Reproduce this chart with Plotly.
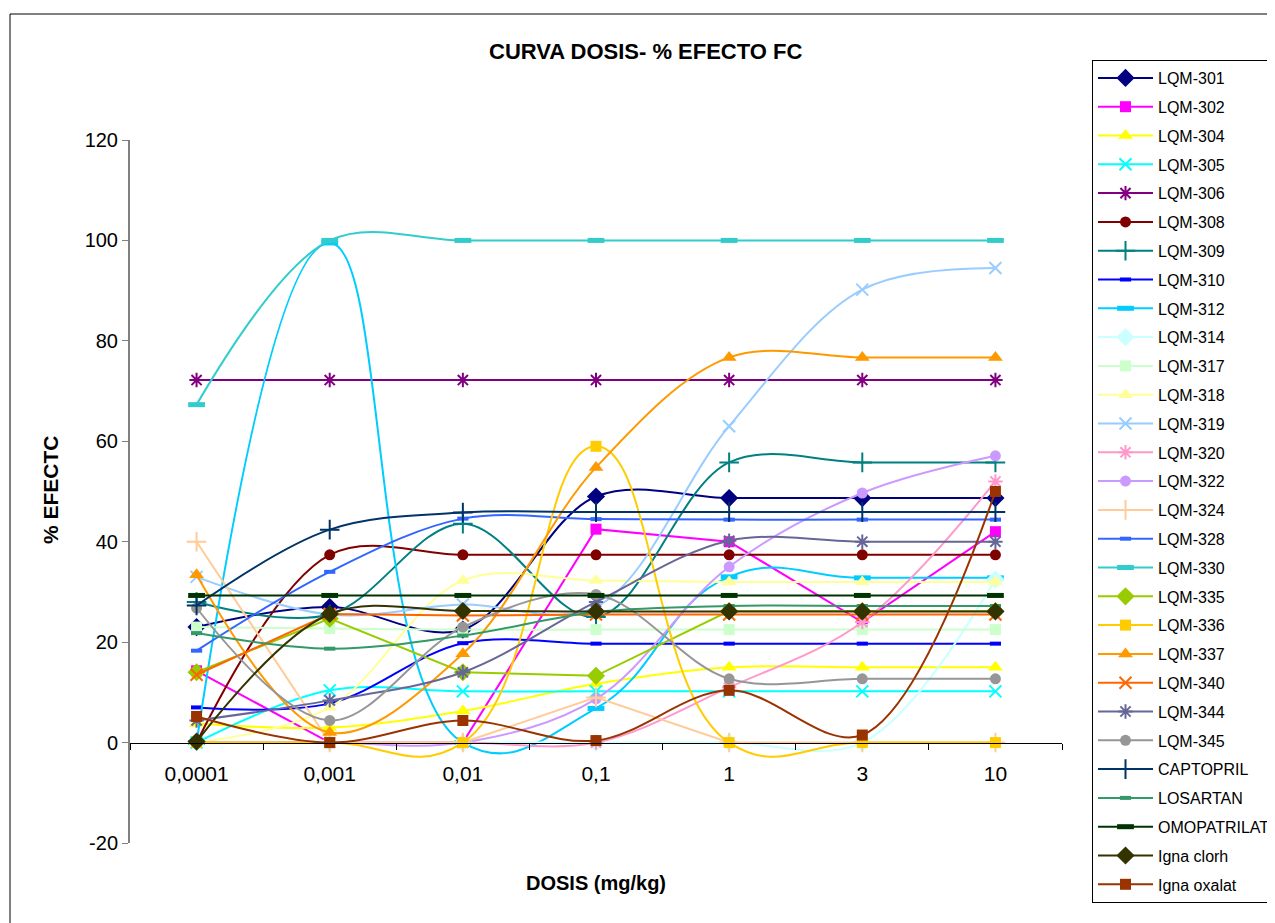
import plotly.graph_objects as go

# ---------------- data ----------------
doses = ["0,0001", "0,001", "0,01", "0,1", "1", "3", "10"]

lqm_301 = [23, 27, 22.5, 49, 48.7, 48.7, 48.7]
lqm_302 = [14.3, 0, 0, 42.5, 40, 24, 42]
lqm_304 = [3.8, 3, 6.3, 11.7, 15, 15, 15]
lqm_305 = [0, 10.4, 10.2, 10.2, 10.2, 10.2, 10.2]
lqm_306 = [72.2, 72.2, 72.2, 72.2, 72.2, 72.2, 72.2]
lqm_308 = [0, 37.4, 37.4, 37.4, 37.4, 37.4, 37.4]
lqm_309 = [28, 25.5, 43.6, 25, 55.8, 55.8, 55.8]
lqm_310 = [7, 7.8, 19.8, 19.7, 19.7, 19.7, 19.7]
lqm_312 = [0, 99.5, 0, 6.8, 33, 32.8, 32.8]
lqm_314 = [0, 0, 0, 0, 0, 0, 32.5]
lqm_317 = [23, 22.7, 22.5, 22.5, 22.5, 22.5, 22.5]
lqm_318 = [0, 7, 32.3, 32.3, 32, 32, 32]
lqm_319 = [33, 25.5, 27.5, 27, 63, 90.2, 94.5]
lqm_320 = [0, 0, 0, 0, 11, 24, 52]
lqm_322 = [0, 0, 0, 8.7, 35, 49.7, 57.1]
lqm_324 = [40, 0, 0, 9, 0, 0, 0]
lqm_328 = [18.3, 34, 44.6, 44.5, 44.4, 44.4, 44.4]
lqm_330 = [67.3, 100, 100, 100, 100, 100, 100]
lqm_335 = [14, 24.7, 14, 13.3, 26.2, 26.2, 26.2]
lqm_336 = [0, 0, 0, 59, 0, 0, 0]
lqm_337 = [33.4, 2, 17.7, 54.8, 76.7, 76.7, 76.7]
lqm_340 = [13.5, 25.6, 25.3, 25.5, 25.5, 25.5, 25.5]
lqm_344 = [4.4, 8.4, 14, 28, 40.2, 40, 40]
lqm_345 = [26.8, 4.4, 23, 29.5, 12.7, 12.7, 12.7]
captopril = [27.3, 42.4, 45.8, 45.9, 45.9, 45.9, 45.9]
losartan = [21.8, 18.7, 21.3, 26, 27.2, 27.2, 27.2]
omopatrilat = [29.3, 29.3, 29.3, 29.3, 29.3, 29.3, 29.3]
igna_clorh = [0.2, 25.6, 26.2, 26.1, 26.1, 26.1, 26.1]
igna_oxalat = [5.2, 0, 4.4, 0.4, 10.4, 1.5, 50]

series_names = ["LQM-301", "LQM-302", "LQM-304", "LQM-305", "LQM-306", "LQM-308",
                "LQM-309", "LQM-310", "LQM-312", "LQM-314", "LQM-317", "LQM-318",
                "LQM-319", "LQM-320", "LQM-322", "LQM-324", "LQM-328", "LQM-330",
                "LQM-335", "LQM-336", "LQM-337", "LQM-340", "LQM-344", "LQM-345",
                "CAPTOPRIL", "LOSARTAN", "OMOPATRILAT", "Igna clorh", "Igna oxalat"]
series_values = [lqm_301, lqm_302, lqm_304, lqm_305, lqm_306, lqm_308, lqm_309,
                 lqm_310, lqm_312, lqm_314, lqm_317, lqm_318, lqm_319, lqm_320,
                 lqm_322, lqm_324, lqm_328, lqm_330, lqm_335, lqm_336, lqm_337,
                 lqm_340, lqm_344, lqm_345, captopril, losartan, omopatrilat,
                 igna_clorh, igna_oxalat]

y_tick_values = [-20, 0, 20, 40, 60, 80, 100, 120]
y_tick_labels = ["-20", "0", "20", "40", "60", "80", "100", "120"]

# ---------------- styles ----------------
# (color, marker kind, line smoothing; 0 = straight segments)
styles = [
    ("#000080", "diamond", 1), ("#FF00FF", "square", 0), ("#FFFF00", "triangle", 1),
    ("#00FFFF", "x", 1), ("#800080", "asterisk", 1), ("#800000", "circle", 1),
    ("#008080", "cross", 1), ("#0000FF", "dash_s", 1), ("#00CCFF", "dash_l", 1.3),
    ("#CCFFFF", "diamond", 1), ("#CCFFCC", "square", 1), ("#FFFF99", "triangle", 1),
    ("#99CCFF", "x", 1), ("#FF99CC", "asterisk", 1), ("#CC99FF", "circle", 1),
    ("#FFCC99", "cross", 0), ("#3366FF", "dash_s", 1), ("#33CCCC", "dash_l", 1),
    ("#99CC00", "diamond", 0), ("#FFCC00", "square", 1.3), ("#FF9900", "triangle", 1),
    ("#FF6600", "x", 0), ("#666699", "asterisk", 1), ("#969696", "circle", 1),
    ("#003366", "cross", 1), ("#339966", "dash_s", 1), ("#003300", "dash_l", 1),
    ("#333300", "diamond", 1), ("#993300", "square", 1),
]

def marker_for(kind, color):
    if kind == "diamond":
        return dict(symbol="diamond", size=14, color=color, line=dict(width=0))
    if kind == "square":
        return dict(symbol="square", size=11, color=color, line=dict(width=0))
    if kind == "triangle":
        return dict(symbol="triangle-up", size=13, color=color, line=dict(width=0))
    if kind == "circle":
        return dict(symbol="circle", size=11, color=color, line=dict(width=0))
    if kind == "x":
        return dict(symbol="x-thin-open", size=12, color=color, line=dict(width=2, color=color))
    if kind == "asterisk":
        return dict(symbol="asterisk-open", size=12, color=color, line=dict(width=2, color=color))
    if kind == "cross":
        return dict(symbol="cross-thin-open", size=14, color=color, line=dict(width=2, color=color))
    if kind == "dash_s":
        return dict(symbol="line-ew-open", size=8, color=color, line=dict(width=4, color=color))
    return dict(symbol="line-ew-open", size=12, color=color, line=dict(width=5, color=color))

FONT = "Liberation Sans, Arial, sans-serif"

fig = go.Figure()
for i, (name, vals) in enumerate(zip(series_names, series_values)):
    color, kind, smooth = styles[i]
    if smooth > 0:
        line = dict(color=color, width=2, shape="spline", smoothing=smooth)
    else:
        line = dict(color=color, width=2, shape="linear")
    fig.add_trace(go.Scatter(
        x=doses, y=vals, name=name, mode="lines+markers",
        line=line, marker=marker_for(kind, color),
        legendgroup=f"g{i}",
    ))

# page offset (body margin) and target plot-area box in screenshot pixels
OFF = 8
L, R, T, B = 130, 1062, 140, 843
W, H = 1275 - OFF, 923 - OFF
pw, ph = R - L, B - T

def px(x):
    return (x - L) / pw

def py(y):
    return (B - y) / ph

fig.update_layout(
    width=W, height=H, autosize=False,
    margin=dict(l=L - OFF, r=W - (R - OFF), t=T - OFF, b=H - (B - OFF), pad=0,
                autoexpand=False),
    paper_bgcolor="white", plot_bgcolor="white",
    font=dict(family=FONT, color="black"),
    showlegend=True,
    legend=dict(
        x=px(1092), y=py(60), xanchor="left", yanchor="top",
        bordercolor="black", borderwidth=1, bgcolor="white",
        font=dict(family=FONT, size=16, color="black"),
        tracegroupgap=5, itemwidth=55, maxheight=900,
    ),
    xaxis=dict(
        type="category", range=[-0.5, 6.5], showgrid=False, zeroline=False,
        showline=True, linecolor="black", linewidth=1,
        ticks="outside", tickson="boundaries", ticklen=6, tickcolor="black",
        anchor="free", position=20 / 140,
        tickfont=dict(family=FONT, size=21, color="black"),
        ticklabelstandoff=12,
    ),
    yaxis=dict(
        range=[-20, 120], tickmode="array", tickvals=y_tick_values, ticktext=y_tick_labels,
        showgrid=False, zeroline=False,
        showline=True, linecolor="#808080", linewidth=2,
        ticks="outside", ticklen=6, tickcolor="#808080",
        tickfont=dict(family=FONT, size=20, color="black"),
    ),
    annotations=[
        dict(text="<b>CURVA DOSIS- % EFECTO FC</b>", x=px(645), y=py(52),
             xanchor="center", yanchor="middle",
             xref="paper", yref="paper", showarrow=False,
             font=dict(family=FONT, size=22, color="black")),
        dict(text="<b>DOSIS (mg/kg)</b>", x=px(596), y=py(883),
             xanchor="center", yanchor="middle",
             xref="paper", yref="paper", showarrow=False,
             font=dict(family=FONT, size=20, color="black")),
        dict(text="<b>% EFECTC</b>", x=px(50), y=py(490), textangle=-90,
             xanchor="center", yanchor="middle",
             xref="paper", yref="paper", showarrow=False,
             font=dict(family=FONT, size=21, color="black")),
    ],
    shapes=[
        dict(type="rect", xref="paper", yref="paper",
             x0=px(10), x1=px(1300), y0=py(960), y1=py(14),
             line=dict(color="black", width=1), fillcolor="rgba(0,0,0,0)"),
    ],
)

fig.write_html("out.html")
